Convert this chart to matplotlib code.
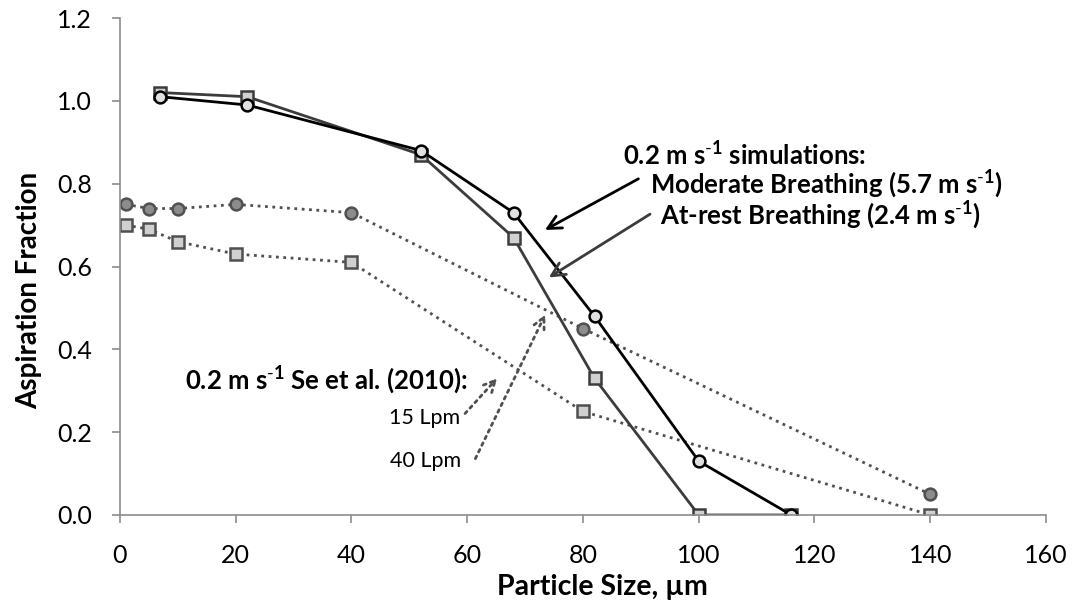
import numpy as np
import matplotlib
matplotlib.use('Agg')
import matplotlib.pyplot as plt

plt.rcParams['font.family'] = ['Lato', 'DejaVu Sans']
plt.rcParams['mathtext.fontset'] = 'custom'
plt.rcParams['mathtext.rm'] = 'Lato'
plt.rcParams['mathtext.bf'] = 'Lato:bold'
plt.rcParams['mathtext.default'] = 'bf'

# Simulaciones a 0.2 m/s
x_sim = [7, 22, 52, 68, 82, 100, 116]
moderada = [1.01, 0.99, 0.88, 0.73, 0.48, 0.13, 0.0]
reposo = [1.02, 1.01, 0.87, 0.67, 0.33, 0.0, 0.0]

# Se et al. (2010)
x_se = [1, 5, 10, 20, 40, 80, 140]
se_15 = [0.75, 0.74, 0.74, 0.75, 0.73, 0.45, 0.05]
se_40 = [0.70, 0.69, 0.66, 0.63, 0.61, 0.25, 0.0]

fig = plt.figure(figsize=(10.73, 6.05), dpi=100)
ax = fig.add_axes([0.1118, 0.1488, 0.863, 0.8214])

ax.plot(x_se, se_15, ':', color='#505050', lw=2.0, marker='o', ms=8.5,
        mfc='#8c8c8c', mec='#505050', mew=1.8)
ax.plot(x_se, se_40, ':', color='#505050', lw=2.0, marker='s', ms=8.5,
        mfc='#d0d0d0', mec='#505050', mew=1.8)
ax.plot(x_sim, reposo, '-', color='#3c3c3c', lw=2.0, marker='s', ms=8.5,
        mfc='#d0d0d0', mec='#3c3c3c', mew=1.8)
ax.plot(x_sim, moderada, '-', color='black', lw=2.0, marker='o', ms=8.5,
        mfc='#e0e0e0', mec='black', mew=1.8)

ax.set_xlim(0, 160)
ax.set_ylim(0, 1.2)
ax.set_xticks(np.arange(0, 161, 20))
ax.set_yticks(np.arange(0, 1.21, 0.2))
ax.yaxis.set_major_formatter(matplotlib.ticker.FormatStrFormatter('%.1f'))
for lado in ['top', 'right']:
    ax.spines[lado].set_visible(False)
for lado in ['left', 'bottom']:
    ax.spines[lado].set_color('#8c8c8c')
    ax.spines[lado].set_linewidth(1.2)
ax.tick_params(direction='out', length=6, width=1.2, color='#8c8c8c',
               labelsize=18)
ax.tick_params(axis='y', pad=14)
ax.tick_params(axis='x', pad=15)
ax.set_xlabel('Particle Size, µm', fontsize=20.5, fontweight='bold')
ax.set_ylabel('Aspiration Fraction', fontsize=20, fontweight='bold')
ax.xaxis.set_label_coords(0.5205, -0.118)
ax.yaxis.set_label_coords(-0.084, 0.451)

sup = r'$^{\text{-}1}$'

# Textos y flechas
ax.text(86.9, 0.87, '0.2 m s' + sup + ' simulations:', fontsize=18.5,
        fontweight='bold', ha='left', va='center')
ax.text(91.6, 0.80, 'Moderate Breathing (5.7 m s' + sup + ')', fontsize=18.5,
        fontweight='bold', ha='left', va='center')
ax.text(93.3, 0.724, 'At-rest Breathing (2.4 m s' + sup + ')', fontsize=18.5,
        fontweight='bold', ha='left', va='center')
ax.annotate('', xy=(73.0, 0.685), xytext=(90.0, 0.815),
            arrowprops=dict(arrowstyle='->', color='black', lw=2.0,
                            mutation_scale=24))
ax.annotate('', xy=(73.7, 0.57), xytext=(92.0, 0.73),
            arrowprops=dict(arrowstyle='->', color='#3c3c3c', lw=2.0,
                            mutation_scale=24))

ax.text(11.3, 0.325, '0.2 m s' + sup + ' Se et al. (2010):', fontsize=18.5,
        fontweight='bold', ha='left', va='center')
ax.text(58.7, 0.235, '15 Lpm', fontsize=15.5, ha='right', va='center')
ax.text(59.0, 0.13, '40 Lpm', fontsize=15.5, ha='right', va='center')
ax.annotate('', xy=(65.5, 0.335), xytext=(59.3, 0.24),
            arrowprops=dict(arrowstyle='->', color='#505050', lw=2.0,
                            linestyle=':', mutation_scale=20))
ax.annotate('', xy=(73.7, 0.49), xytext=(61.2, 0.13),
            arrowprops=dict(arrowstyle='->', color='#505050', lw=2.0,
                            linestyle=':', mutation_scale=20))

fig.savefig('out.png', dpi=100)
